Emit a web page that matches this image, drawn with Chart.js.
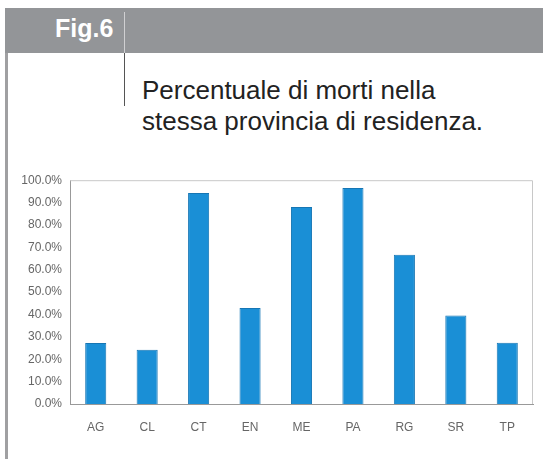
<!DOCTYPE html>
<html>
<head>
<meta charset="utf-8">
<script src="https://cdn.jsdelivr.net/npm/chart.js@4"></script>
<style>
  html, body { margin: 0; padding: 0; background: #fff; }
  body { width: 543px; height: 459px; position: relative; overflow: hidden; font-family: "Liberation Sans", Arial, sans-serif; }
  .header { position: absolute; left: 5px; top: 8px; width: 538px; height: 45px; background: #939598; }
  .fig { position: absolute; left: 55px; top: 13px; color: #fff; font-weight: bold; font-size: 25px; line-height: 30px; }
  .hdiv { position: absolute; left: 124px; top: 12px; width: 1px; height: 41px; background: #d0d0d2; }
  .vline { position: absolute; left: 124px; top: 53px; width: 1px; height: 53px; background: #555; }
  .lborder { position: absolute; left: 5px; top: 53px; width: 3px; height: 406px; background: #a0a0a2; }
  .title { position: absolute; left: 142px; top: 75px; font-size: 26px; line-height: 31px; color: #222; }
  #wrap { position: absolute; left: 10px; top: 165px; width: 530px; height: 269px; }
</style>
</head>
<body>
<div class="header"></div>
<div class="fig">Fig.6</div>
<div class="hdiv"></div>
<div class="vline"></div>
<div class="lborder"></div>
<div class="title">Percentuale di morti nella<br>stessa provincia di residenza.</div>
<div id="wrap"><canvas id="chart"></canvas></div>
<script>
// Province e percentuali
const province = ['AG', 'CL', 'CT', 'EN', 'ME', 'PA', 'RG', 'SR', 'TP'];
const percentuali = [27.3, 24.2, 94.3, 42.9, 88.0, 96.5, 66.7, 39.5, 27.4];
const yTicks = [0, 10, 20, 30, 40, 50, 60, 70, 80, 90, 100];

const tickFont = { family: 'Liberation Sans', size: 12 };

// bordo superiore e destro dell'area del grafico
const frame = {
    id: 'frame',
    afterDraw(chart) {
        const a = chart.chartArea;
        const ctx = chart.ctx;
        ctx.save();
        ctx.strokeStyle = '#c8c8c8';
        ctx.lineWidth = 1;
        ctx.beginPath();
        ctx.moveTo(a.left, a.top + 0.5);
        ctx.lineTo(a.right - 0.5, a.top + 0.5);
        ctx.lineTo(a.right - 0.5, a.bottom);
        ctx.stroke();
        ctx.restore();
    }
};

new Chart(document.getElementById('chart'), {
    type: 'bar',
    data: {
        labels: province,
        datasets: [{
            data: percentuali,
            backgroundColor: '#1a8fd6',
            borderColor: '#1676b4',
            borderWidth: 1,
            barPercentage: 0.41,
            categoryPercentage: 1
        }]
    },
    options: {
        responsive: true,
        maintainAspectRatio: false,
        animation: false,
        layout: { padding: { top: 12, right: 7, left: 0, bottom: 0 } },
        plugins: {
            legend: { display: false },
            tooltip: { enabled: false }
        },
        scales: {
            x: {
                grid: { display: false, drawTicks: false },
                border: { color: '#999' },
                ticks: { color: '#666', font: tickFont, padding: 16 },
                afterFit(scale) { scale.height = 30; }
            },
            y: {
                min: 0,
                max: 100,
                afterBuildTicks(scale) { scale.ticks = yTicks.map(v => ({ value: v })); },
                grid: { display: false, drawTicks: false },
                border: { color: '#999' },
                ticks: {
                    color: '#666',
                    font: tickFont,
                    padding: 8,
                    callback: v => v.toFixed(1) + '%'
                },
                afterFit(scale) { scale.width = 60; }
            }
        }
    },
    plugins: [frame]
});
</script>
</body>
</html>
